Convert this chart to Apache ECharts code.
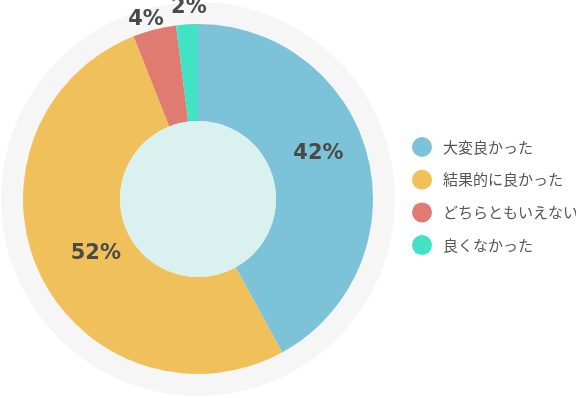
<!DOCTYPE html>
<html>
<head>
<meta charset="utf-8">
<script src="https://cdn.jsdelivr.net/npm/echarts@6/dist/echarts.min.js"></script>
<style>
    html, body { margin: 0; padding: 0; background: #fff; }
    #chart { width: 576px; height: 398px; }
</style>
</head>
<body>
<div id="chart"></div>
<script>
var categories = ['大変良かった', '結果的に良かった', 'どちらともいえない', '良くなかった'];
var values = [42, 52, 4, 2];
var colors = ['#7cc3d9', '#f0c05a', '#e07b72', '#42e3c5'];

// small nudges so the labels sit where the original put them
var labelShift = [[-5, -13], [15, -1], [-4, 7], [3, 1]];

var chart = echarts.init(document.getElementById('chart'));
var center = [198, 199];
var labelFont = {
    fontSize: 21,
    fontWeight: 'bold',
    color: '#4a4a4a',
    fontFamily: 'DejaVu Sans'
};

var option = {
    animation: false,
    legend: {
        orient: 'vertical',
        left: 407,
        top: 132,
        itemWidth: 32,
        itemHeight: 20,
        itemGap: 12.7,
        icon: 'circle',
        selectedMode: false,
        data: categories.map(function (name, i) {
            return { name: name, itemStyle: { color: colors[i] } };
        }),
        textStyle: {
            fontSize: 15,
            color: '#555555',
            fontFamily: 'Noto Sans CJK JP'
        }
    },
    series: [
        {
            // gray ring behind the pie
            type: 'pie',
            silent: true,
            center: center,
            radius: [0, 197],
            z: 1,
            label: { show: false },
            labelLine: { show: false },
            itemStyle: { color: '#f6f6f6' },
            data: [{ value: 1, name: '' }]
        },
        {
            type: 'pie',
            center: center,
            radius: [78, 175],
            startAngle: 90,
            clockwise: true,
            z: 2,
            silent: true,
            itemStyle: { borderWidth: 0 },
            label: {
                show: true,
                position: 'inside',
                formatter: '{c}%',
                textStyle: labelFont
            },
            labelLine: { show: false },
            labelLayout: function (params) {
                var s = labelShift[params.dataIndex];
                return { dx: s[0], dy: s[1] };
            },
            data: categories.map(function (name, i) {
                return {
                    name: name,
                    value: values[i],
                    itemStyle: { color: colors[i] },
                    label: { show: values[i] >= 10 }
                };
            })
        },
        {
            // invisible ring that carries the labels of the thin slices
            type: 'pie',
            center: center,
            radius: [175, 205],
            startAngle: 90,
            clockwise: true,
            z: 3,
            silent: true,
            legendHoverLink: false,
            itemStyle: { color: 'rgba(0,0,0,0)', borderWidth: 0 },
            label: {
                show: true,
                position: 'inside',
                formatter: '{c}%',
                textStyle: labelFont
            },
            labelLine: { show: false },
            labelLayout: function (params) {
                var s = labelShift[params.dataIndex];
                return { dx: s[0], dy: s[1] };
            },
            data: categories.map(function (name, i) {
                return {
                    name: name,
                    value: values[i],
                    label: { show: values[i] < 10 }
                };
            })
        },
        {
            // pale centre disc
            type: 'pie',
            silent: true,
            center: center,
            radius: [0, 78],
            z: 4,
            label: { show: false },
            labelLine: { show: false },
            itemStyle: { color: '#daf2ef' },
            data: [{ value: 1, name: '' }]
        }
    ]
};
chart.setOption(option);
</script>
</body>
</html>
